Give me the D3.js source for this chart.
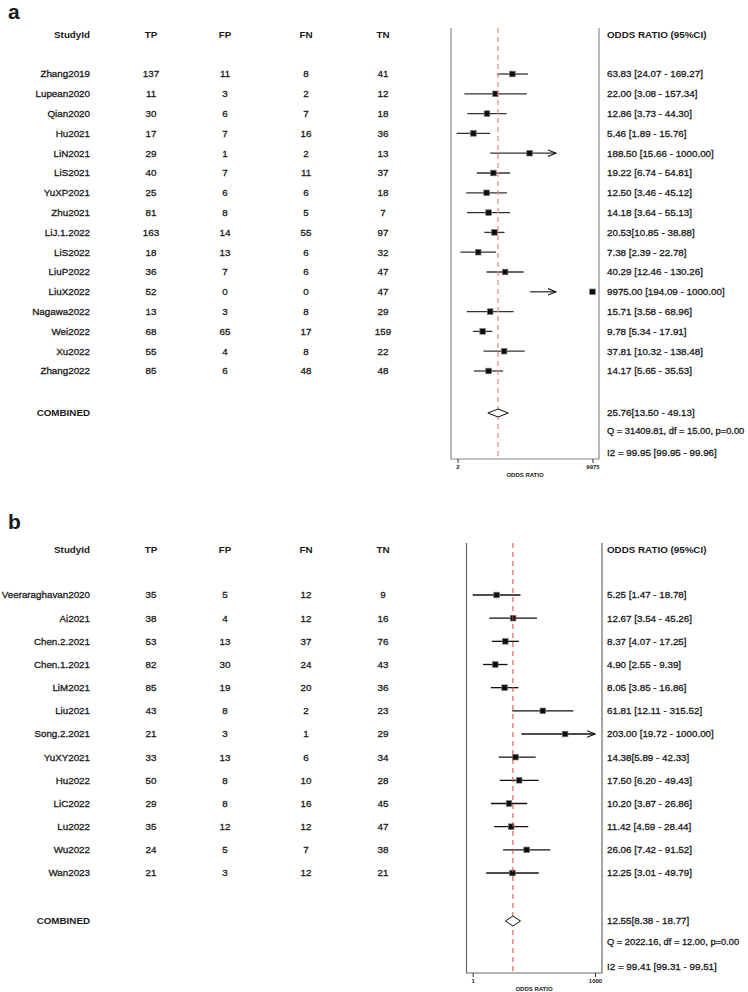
<!DOCTYPE html>
<html>
<head>
<meta charset="utf-8">
<script src="https://cdn.jsdelivr.net/npm/d3@7"></script>
<style>
  body { margin: 0; background: #fff; }
  text { font-family: "Liberation Sans", Arial, sans-serif; fill: #1a1a1a; }
  .medium { stroke: #1a1a1a; stroke-width: 0.3px; }
</style>
</head>
<body>
<div id="graphic"></div>
<script>
// Forest plots (odds ratio) - two panels

// Panel a
let studiesA = ["Zhang2019", "Lupean2020", "Qian2020", "Hu2021", "LiN2021", "LiS2021", "YuXP2021", "Zhu2021",
  "LiJ.1.2022", "LiS2022", "LiuP2022", "LiuX2022", "Nagawa2022", "Wei2022", "Xu2022", "Zhang2022"];
let tpA = [137, 11, 30, 17, 29, 40, 25, 81, 163, 18, 36, 52, 13, 68, 55, 85];
let fpA = [11, 3, 6, 7, 1, 7, 6, 8, 14, 13, 7, 0, 3, 65, 4, 6];
let fnA = [8, 2, 7, 16, 2, 11, 6, 5, 55, 6, 6, 0, 8, 17, 8, 48];
let tnA = [41, 12, 18, 36, 13, 37, 18, 7, 97, 32, 47, 47, 29, 159, 22, 48];
let orA = [63.83, 22.00, 12.86, 5.46, 188.50, 19.22, 12.50, 14.18, 20.53, 7.38, 40.29, 9975.00, 15.71, 9.78, 37.81, 14.17];
let loA = [24.07, 3.08, 3.73, 1.89, 15.66, 6.74, 3.46, 3.64, 10.85, 2.39, 12.46, 194.09, 3.58, 5.34, 10.32, 5.65];
let hiA = [169.27, 157.34, 44.30, 15.76, 1000.00, 54.81, 45.12, 55.13, 38.88, 22.78, 130.26, 1000.00, 68.96, 17.91, 138.48, 35.53];
let pooledA = [25.76, 13.50, 49.13];
let qTextA = "Q = 31409.81, df = 15.00, p=0.00";
let i2TextA = "I2 = 99.95 [99.95 - 99.96]";
let ticksA = [2, 9975];

// Panel b
let studiesB = ["Veeraraghavan2020", "Ai2021", "Chen.2.2021", "Chen.1.2021", "LiM2021", "Liu2021", "Song.2.2021",
  "YuXY2021", "Hu2022", "LiC2022", "Lu2022", "Wu2022", "Wan2023"];
let tpB = [35, 38, 53, 82, 85, 43, 21, 33, 50, 29, 35, 24, 21];
let fpB = [5, 4, 13, 30, 19, 8, 3, 13, 8, 8, 12, 5, 3];
let fnB = [12, 12, 37, 24, 20, 2, 1, 6, 10, 16, 12, 7, 12];
let tnB = [9, 16, 76, 43, 36, 23, 29, 34, 28, 45, 47, 38, 21];
let orB = [5.25, 12.67, 8.37, 4.90, 8.05, 61.81, 203.00, 14.38, 17.50, 10.20, 11.42, 26.06, 12.25];
let loB = [1.47, 3.54, 4.07, 2.55, 3.85, 12.11, 19.72, 5.89, 6.20, 3.87, 4.59, 7.42, 3.01];
let hiB = [18.78, 45.26, 17.25, 9.39, 16.86, 315.52, 1000.00, 42.33, 49.43, 26.86, 28.44, 91.52, 49.79];
let pooledB = [12.55, 8.38, 18.77];
let qTextB = "Q = 2022.16, df = 12.00, p=0.00";
let i2TextB = "I2 = 99.41 [99.31 - 99.51]";
let ticksB = [1, 1000];

// études écrites sans espace avant le crochet dans l'original
let tight = ["LiJ.1.2022", "YuXY2021"];

let colonnes = ["TP", "FP", "FN", "TN"];
let xCol = {TP: 151, FP: 225, FN: 306, TN: 383};
let fs = 9.8;

let cadre = d3.select("#graphic")
  .append("svg")
  .attr("width", 748)
  .attr("height", 992);

// pointe de flèche
cadre.append("defs").append("marker")
  .attr("id", "fleche")
  .attr("viewBox", "0 0 10 10")
  .attr("refX", 10).attr("refY", 5)
  .attr("markerWidth", 9).attr("markerHeight", 8)
  .attr("markerUnits", "userSpaceOnUse")
  .attr("orient", "auto")
  .append("path")
  .attr("d", "M0,1 L10,5 L0,9")
  .attr("fill", "none")
  .attr("stroke", "#111")
  .attr("stroke-width", 1.3);

let fmt = d3.format(".2f");

function drawPanel(p) {
  let g = cadre.append("g");
  let rows = p.studies.map((s, i) => ({
    study: s, TP: p.tp[i], FP: p.fp[i], FN: p.fn[i], TN: p.tn[i],
    or: p.or[i], lo: p.lo[i], hi: p.hi[i]
  }));

  let y = d3.scalePoint().domain(p.studies).range(p.yRange);
  let x = d3.scaleLog().domain(p.ticks).range(p.xRange);

  // lettre du panneau
  g.append("text").attr("x", 8).attr("y", p.letterY)
    .attr("font-size", 21).attr("font-weight", "bold").text(p.letter);

  // en-têtes
  g.append("text").attr("x", 90).attr("y", p.headY).attr("dy", "0.35em")
    .attr("text-anchor", "end").attr("font-size", fs).attr("font-weight", "bold").text("StudyId");
  colonnes.forEach(c => {
    g.append("text").attr("x", xCol[c]).attr("y", p.headY).attr("dy", "0.35em")
      .attr("text-anchor", "middle").attr("font-size", fs).attr("font-weight", "bold").text(c);
  });
  g.append("text").attr("x", 607).attr("y", p.headY).attr("dy", "0.35em")
    .attr("font-size", fs).attr("font-weight", "bold").text("ODDS RATIO (95%CI)");

  // tableau
  let ligne = g.selectAll(".ligne").data(rows).enter().append("g")
    .attr("transform", d => `translate(0,${y(d.study)})`);
  ligne.append("text").attr("class", "medium").attr("x", 90).attr("dy", "0.35em").attr("text-anchor", "end")
    .attr("font-size", fs).text(d => d.study);
  colonnes.forEach(c => {
    ligne.append("text").attr("class", "medium").attr("x", xCol[c]).attr("dy", "0.35em").attr("text-anchor", "middle")
      .attr("font-size", fs).text(d => d[c]);
  });
  ligne.append("text").attr("class", "medium").attr("x", 607).attr("dy", "0.35em").attr("font-size", fs)
    .text(d => fmt(d.or) + (tight.includes(d.study) ? "[" : " [") + fmt(d.lo) + " - " + fmt(d.hi) + "]");

  g.append("text").attr("x", 90).attr("y", p.combY).attr("dy", "0.35em").attr("text-anchor", "end")
    .attr("font-size", fs).attr("font-weight", "bold").text("COMBINED");
  g.append("text").attr("class", "medium").attr("x", 607).attr("y", p.combY).attr("dy", "0.35em").attr("font-size", fs)
    .text(fmt(p.pooled[0]) + "[" + fmt(p.pooled[1]) + " - " + fmt(p.pooled[2]) + "]");
  g.append("text").attr("class", "medium").attr("x", 607).attr("y", p.qY).attr("dy", "0.35em").attr("font-size", 9.3).text(p.qText);
  g.append("text").attr("class", "medium").attr("x", 607).attr("y", p.i2Y).attr("dy", "0.35em").attr("font-size", fs).text(p.i2Text);

  // cadre du graphique (gauche, droite, bas)
  g.append("path")
    .attr("d", `M${p.box[0]},${p.top} V${p.bottom} H${p.box[1]} V${p.top}`)
    .attr("fill", "none").attr("stroke", p.boxColor).attr("stroke-width", 1.2);

  // ligne de l'effet combiné
  g.append("line")
    .attr("x1", x(p.pooled[0])).attr("x2", x(p.pooled[0]))
    .attr("y1", p.top).attr("y2", p.bottom)
    .attr("stroke", p.refColor).attr("stroke-width", p.refWidth)
    .attr("stroke-dasharray", "5,4");

  // intervalles de confiance
  ligne.append("line")
    .attr("x1", d => x(d.lo))
    .attr("x2", d => x(d.hi))
    .attr("stroke", p.ciColor).attr("stroke-width", 1.3)
    .attr("marker-end", d => d.hi >= 1000 ? "url(#fleche)" : null);

  // carrés
  ligne.append("rect")
    .attr("x", d => x(d.or) - 2.8).attr("y", -2.8)
    .attr("width", 5.6).attr("height", 5.6)
    .attr("fill", "#0d0d0d").attr("stroke", "#777").attr("stroke-width", 0.7);

  // losange combiné
  let cx = x(p.pooled[0]);
  g.append("path")
    .attr("d", `M${x(p.pooled[1])},${p.combY} L${cx},${p.combY - p.dh} L${x(p.pooled[2])},${p.combY} L${cx},${p.combY + p.dh} Z`)
    .attr("fill", "#fff").attr("stroke", "#111").attr("stroke-width", 1);

  // axe
  let xAxe = d3.scaleLog().domain(p.ticks).range(p.axisRange);
  let axe = d3.axisBottom(xAxe).tickValues(p.ticks).tickSize(4).tickPadding(2)
    .tickFormat(d3.format("d"));
  let ga = g.append("g").attr("transform", `translate(0,${p.bottom})`).call(axe);
  ga.select(".domain").remove();
  ga.selectAll(".tick line").attr("stroke", "#333");
  ga.selectAll(".tick text").attr("font-size", 6).attr("font-weight", "bold")
    .attr("font-family", "'Liberation Sans', Arial, sans-serif").attr("fill", "#222");
  g.append("text").attr("x", p.labelX).attr("y", p.bottom + 16).attr("dy", "0.35em")
    .attr("text-anchor", "middle").attr("font-size", 6).attr("font-weight", "bold").text("ODDS RATIO");
}

drawPanel({
  letter: "a", letterY: 19, headY: 35,
  studies: studiesA, tp: tpA, fp: fpA, fn: fnA, tn: tnA, or: orA, lo: loA, hi: hiA,
  pooled: pooledA, qText: qTextA, i2Text: i2TextA, ticks: ticksA,
  yRange: [74, 371], xRange: [457.5, 592.5], axisRange: [457.5, 592.5],
  combY: 413, qY: 431, i2Y: 452.5, dh: 4,
  top: 28, bottom: 459, box: [451, 599], labelX: 525,
  boxColor: "#8a8a8a", refColor: "#f08a8a", refWidth: 1.3, ciColor: "#333"
});

drawPanel({
  letter: "b", letterY: 529, headY: 550,
  studies: studiesB, tp: tpB, fp: fpB, fn: fnB, tn: tnB, or: orB, lo: loB, hi: hiB,
  pooled: pooledB, qText: qTextB, i2Text: i2TextB, ticks: ticksB,
  yRange: [595, 873], xRange: [465.5, 595], axisRange: [472.7, 595],
  combY: 921, qY: 942, i2Y: 967, dh: 5,
  top: 543, bottom: 973, box: [466.5, 602], labelX: 534,
  boxColor: "#6a6a6a", refColor: "#e03c3c", refWidth: 1, ciColor: "#111"
});
</script>
</body>
</html>
